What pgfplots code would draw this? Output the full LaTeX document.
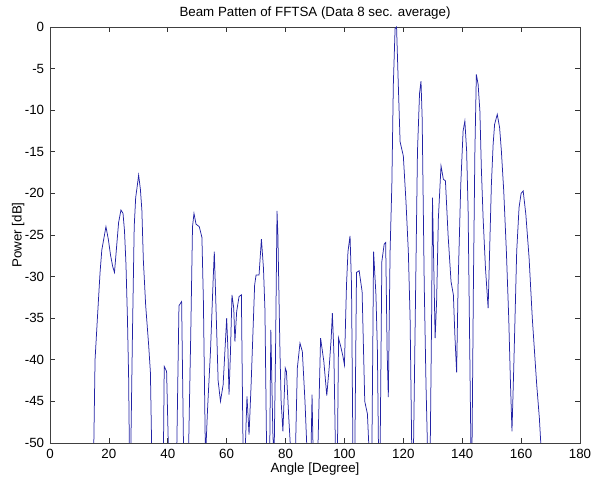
\documentclass[border=0pt]{standalone}
\usepackage{pgfplots}
\pgfplotsset{compat=1.18}
\usepackage{fontspec}
\setmainfont{Liberation Sans}
\pgfplotstableread{
x y
14.8 -52
15.3 -40
16.1 -35
17.0 -29.5
17.6 -26.8
18.1 -25.8
19.0 -24.0
19.8 -25.5
20.6 -27.5
21.3 -28.8
21.9 -29.5
22.6 -26.5
23.3 -23.5
24.1 -22.0
24.8 -22.4
25.3 -24.5
25.8 -28.5
26.3 -35
26.7 -42
27.0 -52
27.4 -52
28.0 -37
28.6 -24
29.1 -20.5
29.6 -19.2
30.1 -17.8
30.7 -19.5
31.2 -22
31.7 -28
32.5 -33.5
33.5 -38.2
34.1 -41.5
34.6 -52
38.5 -52
38.8 -40.8
39.6 -41.4
40.3 -52
43.0 -52
43.8 -33.5
44.7 -33.0
45.4 -52
47.0 -52
47.8 -37
48.4 -24
48.9 -22.4
49.6 -23.7
50.7 -24.0
51.6 -25.3
52.1 -33
52.8 -52
53.5 -46
54.5 -39
55.4 -30.5
55.8 -27
56.4 -34
57.1 -42.5
57.9 -45
58.8 -43
59.4 -39
60.0 -35
60.4 -38.5
60.8 -44.2
61.3 -39
61.8 -32.2
62.4 -33.8
62.8 -37.8
63.4 -34.2
64.2 -32.4
65.0 -32.2
65.6 -52
66.2 -52
66.9 -44.4
67.6 -49
68.3 -43
69.5 -31
70.0 -29.8
71.0 -29.8
71.8 -25.5
72.5 -29
73.0 -34
73.6 -52
74.6 -52
75.0 -36.4
75.7 -49
76.1 -52
76.6 -39
77.1 -22.1
77.4 -25
78.1 -39
78.5 -45
79.1 -48.6
79.9 -41
80.3 -41.4
81.1 -47
81.9 -52
83.3 -52
84.0 -41
84.9 -38
85.7 -39
86.6 -45
87.4 -52
88.6 -52
89.0 -44.2
89.4 -52
90.9 -52
91.9 -37.4
93.0 -40.2
94.0 -44.3
94.8 -41
95.5 -37.4
95.9 -34.4
96.4 -39
97.0 -52
97.6 -52
98.0 -37.4
98.8 -38.5
99.5 -39.6
100.0 -40.6
100.7 -31
101.2 -27
101.9 -25.1
102.4 -31
102.9 -52
103.5 -52
104.1 -29.5
105.0 -29.3
106.0 -31.8
106.9 -45
107.8 -46.5
108.5 -52
109.3 -52
109.9 -27
110.7 -32.2
111.2 -39
111.6 -52
112.1 -52
112.7 -28.2
113.5 -26.1
114.0 -25.9
114.5 -39
114.9 -44.5
115.5 -27
116.1 -19
116.6 -7
117.2 -0.2
117.7 0
118.3 -7
118.9 -13.8
120.0 -15.5
120.9 -21
121.7 -27
122.3 -35
122.9 -52
123.4 -52
124.2 -31
124.8 -15
125.5 -8
126.0 -6.5
126.4 -11
127.1 -31
127.7 -43
128.3 -52
129.1 -52
129.6 -35
129.9 -20.5
130.3 -28
130.8 -37.4
131.3 -33
131.9 -23
132.8 -16.7
133.6 -18.3
134.3 -18.5
135.2 -25
136.2 -30.6
137.0 -32.2
137.5 -37
138.1 -41.5
138.6 -31
139.5 -19
140.3 -12.5
140.9 -11.3
141.5 -14.9
142.0 -22
142.6 -40
143.0 -52
143.3 -52
143.8 -31
144.3 -15
144.8 -5.7
145.4 -6.9
146.0 -10.1
146.5 -17
147.1 -23
147.9 -29
148.8 -33.8
149.3 -27
149.9 -19
150.5 -14.1
151.0 -11.7
151.9 -10.5
152.7 -12.1
153.3 -14.9
154.1 -19.7
155.0 -27
155.8 -35
156.4 -43
156.9 -48.6
157.5 -41
158.5 -27
159.3 -21.7
160.0 -20
160.7 -19.7
161.6 -22.5
162.7 -27.7
163.8 -35
165.3 -43
166.2 -47
167.0 -52
}\beam
\begin{document}
\begin{tikzpicture}
\useasboundingbox (-30pt,-22.2pt) rectangle (324.6pt,265.8pt);
\begin{axis}[
  at={(0,0)}, anchor=south west,
  scale only axis,
  width=318pt, height=249.6pt,
  xmin=0, xmax=180, ymin=-50, ymax=0,
  xtick={0,20,...,180},
  xticklabels={0,20,40,60,80,100,120,140,160,180},
  ytick={-50,-45,...,0},
  yticklabels={-50,-45,-40,-35,-30,-25,-20,-15,-10,-5,0},
  tick align=inside,
  major tick length=3pt,
  tick style={black!80, line width=0.4pt},
  axis line style={black!75, line width=0.5pt},
  every tick label/.append style={font=\fontsize{8}{9.6}\selectfont},
  label style={font=\fontsize{8}{9.6}\selectfont},
  title style={font=\fontsize{8}{9.6}\selectfont, at={(0.5,1)}, anchor=base, yshift=0.3pt},
  title={Beam Patten of FFTSA (Data 8 sec. average)},
  xlabel={Angle [Degree]},
  ylabel={Power [dB]},
  xlabel style={at={(axis description cs:0.5,0)}, anchor=base, yshift=-17.5pt},
  ylabel style={at={(axis description cs:-0.06,0.5)}, anchor=center},
  clip=true,
]
\addplot[color={rgb,255:red,35;green,35;blue,165}, line width=0.45pt, mark=none] table[x=x,y=y] {\beam};
\end{axis}
\end{tikzpicture}
\end{document}
